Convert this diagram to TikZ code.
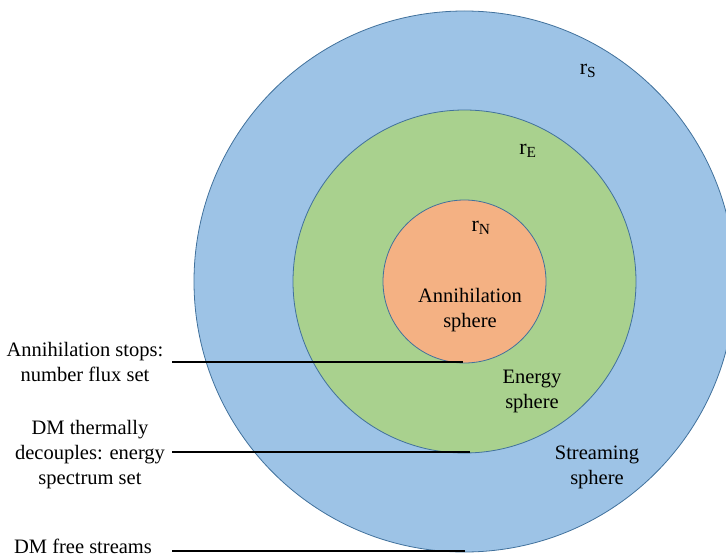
\documentclass[tikz,border=0pt]{standalone}
\usepackage{fontspec}
\setmainfont{Liberation Serif}
\usetikzlibrary{calc}
\definecolor{streamblue}{HTML}{9DC3E6}
\definecolor{energygreen}{HTML}{A9D18E}
\definecolor{annihorange}{HTML}{F4B183}
\definecolor{rimblue}{HTML}{41719C}
\tikzstyle{sphere}=[draw=rimblue, line width=0.8pt, shape=circle, inner sep=0pt]
\tikzstyle{spheretext}=[align=center, font=\fontsize{20.5}{25}\selectfont, inner sep=0pt]
\tikzstyle{radiustext}=[font=\fontsize{22}{24}\selectfont, inner sep=0pt]
\tikzstyle{epoch}=[line width=1.8pt]

\begin{document}
\begin{tikzpicture}[x=1pt, y=-1pt]
    \useasboundingbox (0, 0) rectangle (726, 559);

    \node[sphere, fill=streamblue, minimum size=541pt] (stream) at (464.5, 281.5) {};
    \node[sphere, fill=energygreen, minimum size=343pt] (energy) at (stream.center) {};
    \node[sphere, fill=annihorange, minimum size=163pt] (annih) at (stream.center) {};

    \node[radiustext] (rS) at (588, 71) {r\textsubscript{S}};
    \node[radiustext] (rE) at (528, 151) {r\textsubscript{E}};
    \node[radiustext] (rN) at (481, 228) {r\textsubscript{N}};

    \node[spheretext] (annihtext) at (470, 310) {Annihilation\\sphere};
    \node[spheretext] (energytext) at (532, 391) {Energy\\sphere};
    \node[spheretext] (streamtext) at (597, 467) {Streaming\\sphere};

    \node[spheretext] (stopstext) at (85, 362) {Annihilation stops:\\number flux set};
    \node[spheretext] (decoupletext) at (90, 455) {DM thermally\\decouples: energy\\spectrum set};
    \node[spheretext] (freetext) at (83, 546.5) {DM free streams};

    \coordinate (stopsend) at (172, 362);
    \coordinate (decoupleend) at (172, 452);
    \coordinate (freeend) at (172, 551);

    \draw[epoch] (stopsend) -- ($(stopsend -| annih.south) + (-2, 0)$);
    \draw[epoch] (decoupleend) -- ($(decoupleend -| energy.south) + (5, 0)$);
    \draw[epoch] (freeend) -- (freeend -| stream.south);
\end{tikzpicture}
\end{document}
